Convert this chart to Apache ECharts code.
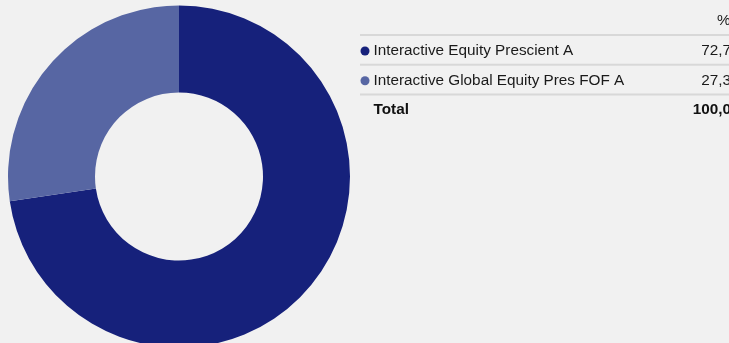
<!DOCTYPE html>
<html>
<head>
<meta charset="utf-8">
<script src="https://cdn.jsdelivr.net/npm/echarts@6/dist/echarts.min.js"></script>
<style>
html,body{margin:0;padding:0;background:#f1f1f1;}
#c{width:729px;height:343px;}
</style>
</head>
<body>
<div id="c"></div>
<script>
var categories = ['Interactive Equity Prescient A', 'Interactive Global Equity Pres FOF A'];
var values = [72.7, 27.3];
var colors = ['#16217b', '#5766a3'];
var headerLabel = '%';
var totalLabel = 'Total';

var fmt = function (v) { return v.toFixed(2).replace('.', ','); };
var total = values.reduce(function (a, b) { return a + b; }, 0);

var chart = echarts.init(document.getElementById('c'), null, {renderer: 'canvas'});

var FAM = 'Liberation Sans';
var FS = 15.3;
function txt(x, y, s, bold, right) {
  return {type: 'text', x: x, y: y, silent: true,
    style: {text: s, fontFamily: FAM, fontSize: FS, fontWeight: bold ? 'bold' : 'normal',
      fill: bold ? '#111' : '#1a1a1a', align: right ? 'right' : 'left', verticalAlign: 'middle'}};
}
var graphics = [];
var rowTop = 35, rowH = 29.8, lineX = 360, textX = 373.5, valRight = 739.5;
graphics.push(txt(717, 20.5, headerLabel, false, false));
for (var i = 0; i <= categories.length; i++) {
  graphics.push({type: 'rect', shape: {x: lineX, y: rowTop + i * rowH - 1, width: 729 - lineX, height: 2}, style: {fill: '#d8d8d8'}, silent: true});
}
categories.forEach(function (name, i) {
  var cy = rowTop + i * rowH + 16;
  graphics.push({type: 'circle', shape: {cx: 365, cy: cy, r: 4.5}, style: {fill: colors[i]}, silent: true});
  graphics.push(txt(textX, cy, name, false, false));
  graphics.push(txt(valRight, cy, fmt(values[i]), false, true));
});
var ty = rowTop + categories.length * rowH + 15;
graphics.push(txt(textX, ty, totalLabel, true, false));
graphics.push(txt(valRight, ty, fmt(total), true, true));

chart.setOption({
  backgroundColor: '#f1f1f1',
  animation: false,
  series: [{
    type: 'pie',
    center: [179, 176.5],
    radius: [84, 171],
    startAngle: 90,
    clockwise: true,
    silent: true,
    label: {show: false},
    labelLine: {show: false},
    itemStyle: {borderWidth: 0},
    data: categories.map(function (n, i) { return {name: n, value: values[i], itemStyle: {color: colors[i]}}; })
  }],
  graphic: graphics
});
</script>
</body>
</html>
